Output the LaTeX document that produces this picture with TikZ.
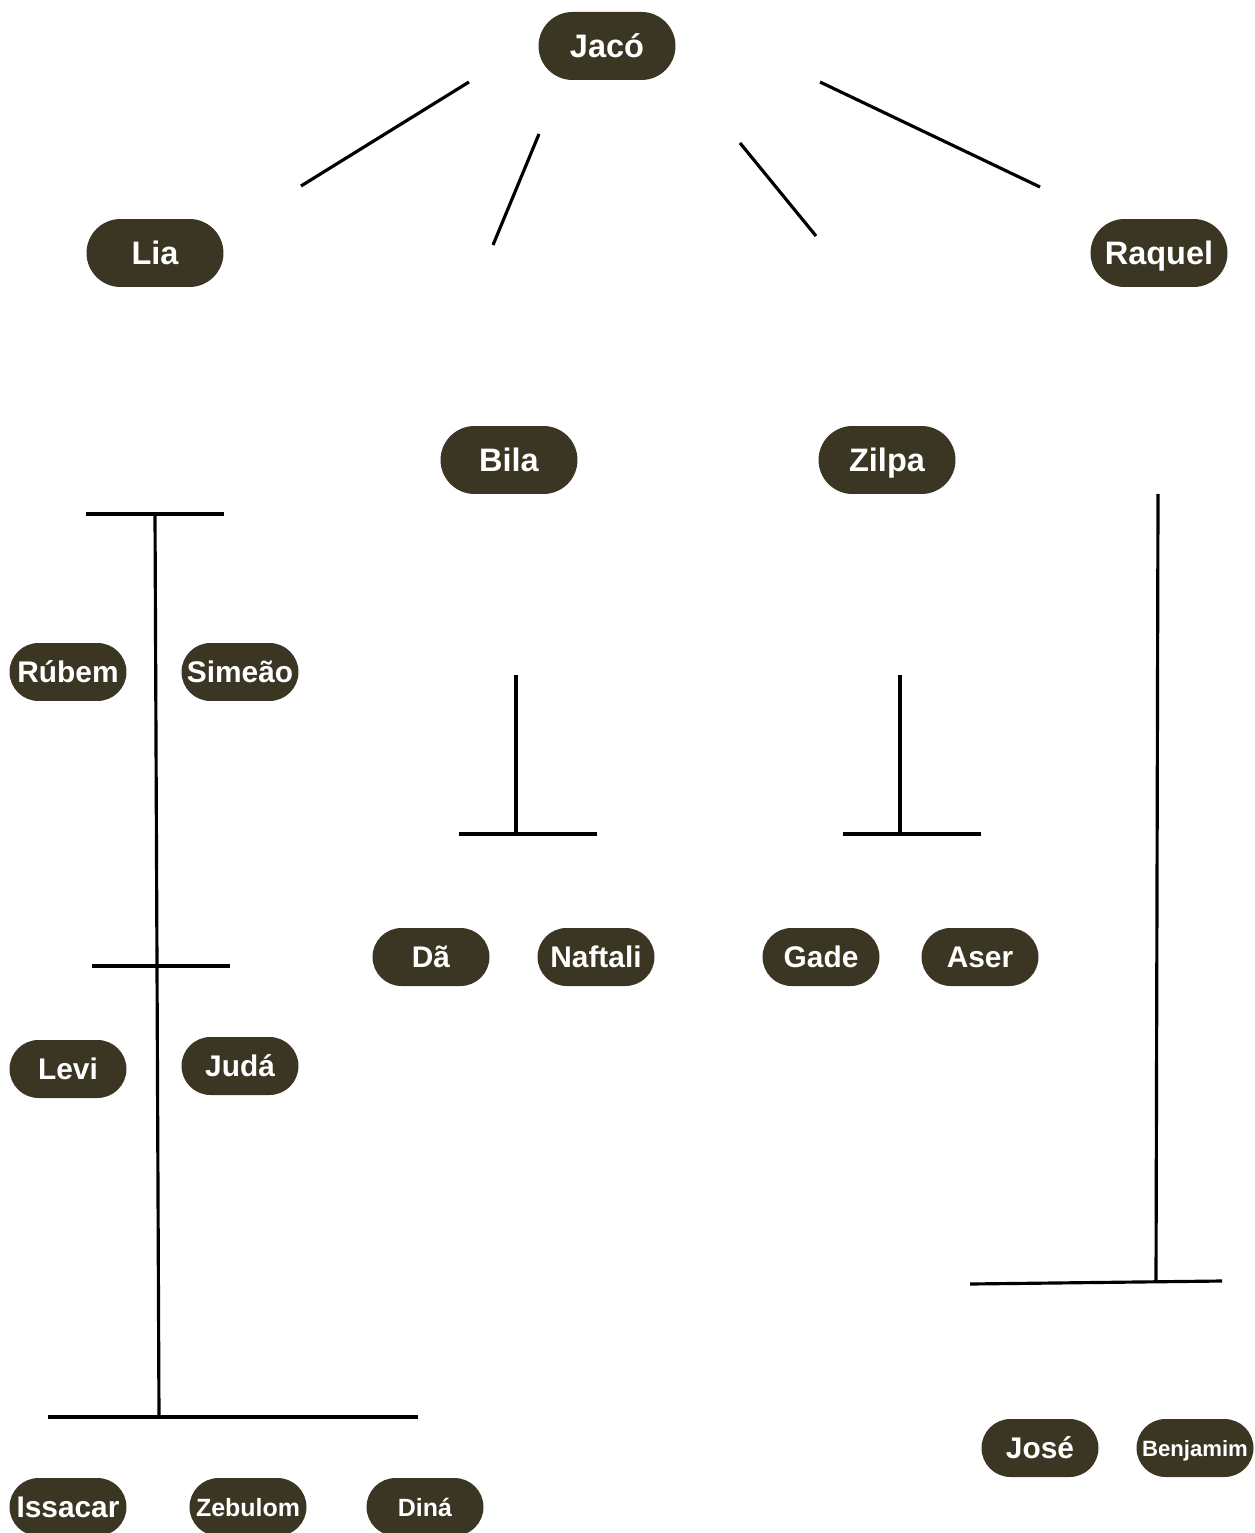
\documentclass[tikz,border=0pt]{standalone}
\usepackage{fontspec}
\setmainfont{Liberation Sans}
\definecolor{bark}{HTML}{3B3524}

\begin{document}
\begin{tikzpicture}[x=0.02cm,y=-0.02cm,line width=1.8pt,
        pai/.style={fill=bark,text=white,inner sep=0pt,text height=13.5pt,text depth=0pt,minimum width=2.74cm,minimum height=1.36cm,rounded corners=0.68cm,font=\bfseries\fontsize{18.5}{20}\selectfont},
        filho/.style={pai,text height=12.4pt,minimum width=2.34cm,minimum height=1.16cm,rounded corners=0.58cm,font=\bfseries\fontsize{17}{19}\selectfont},
        menor/.style={filho,text height=10.4pt,font=\bfseries\fontsize{14.2}{16}\selectfont}]
            \useasboundingbox (0,0) rectangle (1254,1533);
            % pais
            \node[pai] (jaco) at (607,46) {Jacó};
            \node[pai] (lia) at (155,253) {Lia};
            \node[pai] (raquel) at (1159,253) {Raquel};
            \node[pai] (bila) at (509,460) {Bila};
            \node[pai] (zilpa) at (887,460) {Zilpa};
            % filhos
            \node[filho] (rubem) at (68,672) {Rúbem};
            \node[filho] (simeao) at (240,672) {Simeão};
            \node[filho] (levi) at (68,1069) {Levi};
            \node[filho] (juda) at (240,1066) {Judá};
            \node[filho] (issacar) at (68,1507) {Issacar};
            \node[menor] (zebulom) at (248,1507) {Zebulom};
            \node[menor] (dina) at (425,1507) {Diná};
            \node[filho] (da) at (431,957) {Dã};
            \node[filho] (naftali) at (596,957) {Naftali};
            \node[filho] (gade) at (821,957) {Gade};
            \node[filho] (aser) at (980,957) {Aser};
            \node[filho] (jose) at (1040,1448) {José};
            \node[menor,text height=9.2pt,font=\bfseries\fontsize{12.6}{14}\selectfont] (benjamim) at (1195,1448) {Benjamim};
            % linhas
            \draw (469,82)--(301,186);
            \draw (539,134)--(493,245);
            \draw (740,143)--(816,236);
            \draw (820,82)--(1040,187);
            \draw (86,514)--(224,514);
            \draw (155,514)--(159,1417);
            \draw (92,966)--(230,966);
            \draw (48,1417)--(418,1417);
            \draw (516,675)--(516,834);
            \draw (459,834)--(597,834);
            \draw (900,675)--(900,834);
            \draw (843,834)--(981,834);
            \draw (1158,494)--(1156,1281);
            \draw (970,1284)--(1222,1281);
        \end{tikzpicture}
\end{document}
